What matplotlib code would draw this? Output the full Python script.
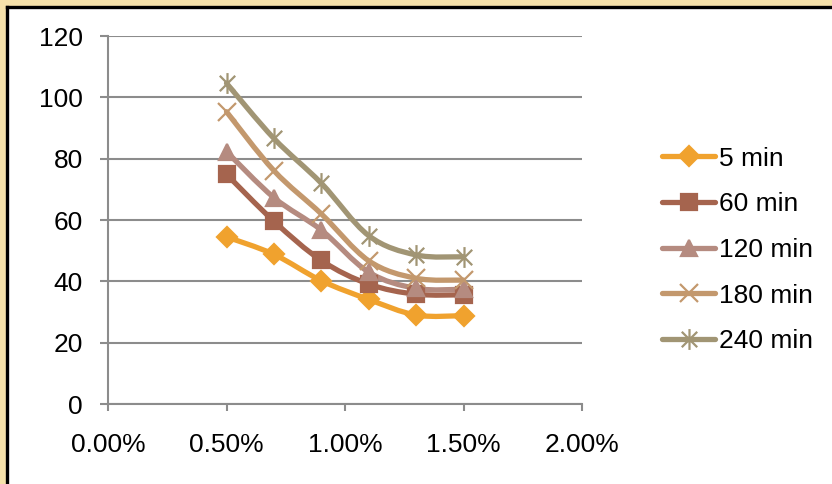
import numpy as np
import matplotlib
matplotlib.use("Agg")
import matplotlib.pyplot as plt
from matplotlib.path import Path
from matplotlib.patches import PathPatch, Rectangle
from matplotlib.lines import Line2D
from matplotlib.ticker import FuncFormatter

plt.rcParams['font.family'] = ['Liberation Sans', 'DejaVu Sans']

# dosage (%) and measured values per time
dose = [0.005, 0.007, 0.009, 0.011, 0.013, 0.015]
t5 = [54.5, 48.8, 40.2, 34.1, 29.0, 28.8]
t60 = [74.9, 59.6, 46.8, 39.1, 35.8, 35.6]
t120 = [82.3, 67.3, 56.7, 43.0, 37.7, 37.4]
t180 = [95.3, 76.1, 62.0, 46.7, 41.0, 40.4]
t240 = [104.6, 86.6, 72.0, 54.9, 48.6, 48.0]
labels = ["5 min", "60 min", "120 min", "180 min", "240 min"]

# x with a vertical bar through it
star = Path([(-1, -1), (1, 1), (-1, 1), (1, -1), (0, -1.35), (0, 1.35)],
            [Path.MOVETO, Path.LINETO, Path.MOVETO, Path.LINETO, Path.MOVETO, Path.LINETO])

series = [t5, t60, t120, t180, t240]
colors = ["#F0A22E", "#A5644E", "#B58B80", "#C3986D", "#A19574"]
markers = ["D", "s", "^", "x", star]
msizes = [10, 12, 12, 13, 15]


def smooth_path(x, y):
    # cubic bezier through the points (catmull-rom style control points)
    pts = np.column_stack([x, y])
    n = len(pts)
    verts = [pts[0]]
    codes = [Path.MOVETO]
    for i in range(n - 1):
        p0 = pts[max(i - 1, 0)]
        p1 = pts[i]
        p2 = pts[i + 1]
        p3 = pts[min(i + 2, n - 1)]
        c1 = p1 + (p2 - p0) / 6.0
        c2 = p2 - (p3 - p1) / 6.0
        verts += [c1, c2, p2]
        codes += [Path.CURVE4] * 3
    return Path(verts, codes)


fig = plt.figure(figsize=(8.32, 4.84), dpi=100, facecolor="#F6E2AA")
# white chart area with black frame on left / top
fig.patches.append(Rectangle((6 / 832, 0), 1, 1 - 6 / 484, transform=fig.transFigure,
                             facecolor="white", edgecolor="none", zorder=-2))
fig.add_artist(Line2D([6.5 / 832, 6.5 / 832], [0, 1 - 6.5 / 484], transform=fig.transFigure,
                      color="black", lw=2.4, solid_capstyle="projecting", zorder=-1))
fig.add_artist(Line2D([6.5 / 832, 1], [1 - 6.5 / 484, 1 - 6.5 / 484], transform=fig.transFigure,
                      color="black", lw=2.4, solid_capstyle="projecting", zorder=-1))

ax = fig.add_axes([108 / 832, 1 - 404 / 484, 474 / 832, 368 / 484])
ax.set_zorder(2)
ax.set_facecolor("none")

handles = []
for vals, c, m, ms, lab in zip(series, colors, markers, msizes, labels):
    ax.add_patch(PathPatch(smooth_path(dose, vals), facecolor="none", edgecolor=c,
                           lw=3.8, capstyle="round", joinstyle="round", zorder=3))
    ax.plot(dose, vals, ls="none", marker=m, ms=ms, color=c, mec=c, mew=1.6, zorder=4)
    handles.append(Line2D([], [], color=c, lw=3.8, marker=m, ms=ms, mec=c, mew=1.6,
                          solid_capstyle="round"))

ax.set_xlim(0, 0.02)
ax.set_ylim(0, 120)
ax.set_xticks([0, 0.005, 0.01, 0.015, 0.02])
ax.set_yticks(range(0, 121, 20))
ax.xaxis.set_major_formatter(FuncFormatter(lambda v, p: "%.2f%%" % (v * 100)))
ax.grid(axis="y", color="#8C8C8C", lw=1.5)
ax.set_axisbelow(True)
for s in ["top", "right"]:
    ax.spines[s].set_visible(False)
for s in ["left", "bottom"]:
    ax.spines[s].set_color("#8C8C8C")
    ax.spines[s].set_linewidth(1.5)
ax.tick_params(axis="x", direction="out", length=5, width=1.5, color="#8C8C8C",
               labelsize=19, pad=16)
ax.tick_params(axis="y", direction="out", length=6, width=1.5, color="#8C8C8C",
               labelsize=19, pad=12)

fig.legend(handles, labels, loc="center left", bbox_to_anchor=(649 / 832, 1 - 250 / 484),
           frameon=False, fontsize=19, handlelength=2.0, handletextpad=0.15,
           labelspacing=0.82, borderpad=0)

fig.savefig("out.png", dpi=100, facecolor=fig.get_facecolor())
